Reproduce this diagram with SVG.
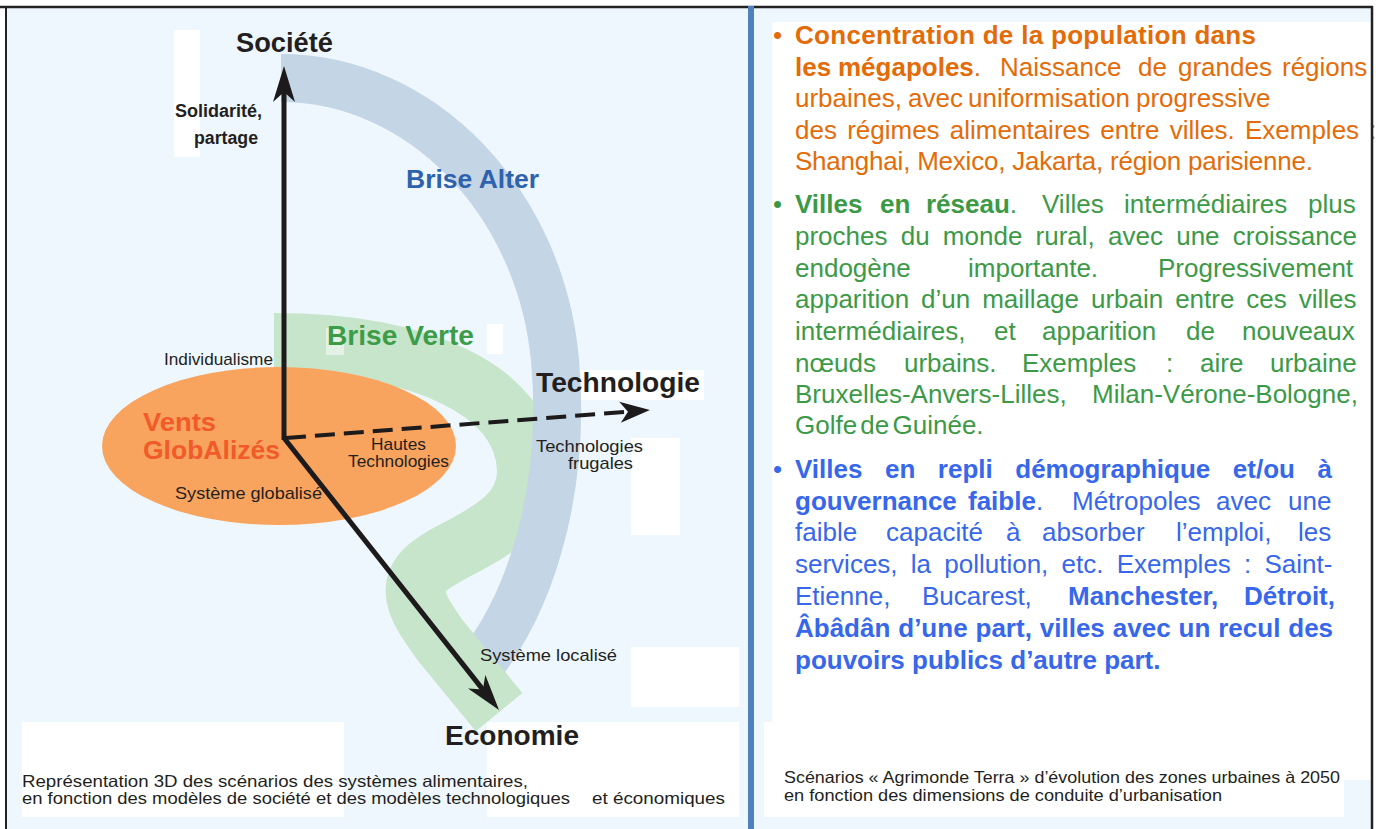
<svg xmlns="http://www.w3.org/2000/svg" width="1376" height="829" viewBox="0 0 1376 829">
<defs>
<style>
text{font-family:"Liberation Sans",Arial,sans-serif;fill:#231f20}
.b{font-weight:bold}
.lb{font-size:17px}
.ax{font-size:28px;font-weight:bold}
.rt{font-size:26px}
.or{fill:#e36c09}
.gr{fill:#3c9a47}
.bl{fill:#3767ea}
.cap{font-size:16.5px}
.wr{fill:#ffffff}
</style>
<marker id="ah" markerUnits="userSpaceOnUse" viewBox="0 -12 40 24" markerWidth="40" markerHeight="24" refX="10" refY="0" orient="auto">
<path d="M0,-11 L36,0 L0,11 L10,0 Z" fill="#1c1a1b"/>
</marker>
<marker id="ahd" markerUnits="userSpaceOnUse" viewBox="0 -12 34 24" markerWidth="34" markerHeight="24" refX="8" refY="0" orient="auto">
<path d="M0,-10.5 L30,0 L0,10.5 L8,0 Z" fill="#1c1a1b"/>
</marker>
</defs>

<rect x="0" y="0" width="1376" height="829" fill="#ffffff"/>
<rect x="6" y="7" width="742" height="822" fill="#eff7fe"/>
<rect x="754" y="7" width="618" height="822" fill="#eff7fe"/>

<g id="artifacts">
<rect class="wr" x="174" y="30" width="26" height="127"/>
<rect class="wr" x="487" y="324" width="16" height="30"/>
<rect class="wr" x="560" y="370" width="144" height="30"/>
<rect class="wr" x="631" y="438" width="49" height="97"/>
<rect class="wr" x="631" y="647" width="108" height="60"/>
<rect class="wr" x="22" y="722" width="322" height="95"/>
<rect class="wr" x="487" y="722" width="252" height="95"/>
<rect class="wr" x="772" y="22" width="599" height="700"/>
<rect class="wr" x="764" y="722" width="580" height="95"/>
<rect class="wr" x="1344" y="722" width="27" height="58"/>
</g>

<g id="brise-verte">
<path d="M274,343 C420,343 525,390 527,470 C529,530 450,545 425,570 C405,590 420,612 440,640 L499,712" fill="none" stroke="#c7e5cb" stroke-width="60"/>
</g>
<g id="brise-alter">
<path d="M281,78 C420,78 540,200 555,360 C565,472 540,590 478,668" fill="none" stroke="#c4d5e6" stroke-width="48"/>
</g>
<g id="brise-verte-tail">
<path d="M440,640 L499,712" fill="none" stroke="#c7e5cb" stroke-width="60"/>
</g>
<rect x="326" y="328" width="18" height="27" fill="#ffffff" opacity="0.5"/>
<g id="vents-globalises">
<ellipse cx="279" cy="446" rx="177" ry="79" fill="#f9a45e"/>
</g>

<g id="connectors" stroke="#1c1a1b" fill="none">
<line x1="284" y1="440" x2="284" y2="92" stroke-width="5" marker-end="url(#ah)"/>
<line x1="284" y1="438" x2="482.9" y2="689.6" stroke-width="5" marker-end="url(#ah)"/>
<line x1="286" y1="438" x2="628" y2="411.7" stroke-width="4" stroke-dasharray="20 9" marker-end="url(#ahd)"/>
</g>

<g id="societe"><text class="ax" x="236" y="52" font-size="27" textLength="97" lengthAdjust="spacingAndGlyphs">Société</text></g>
<g id="solidarite">
<text class="b" font-size="17.5" x="175" y="117" textLength="87" lengthAdjust="spacingAndGlyphs">Solidarité,</text>
<text class="b" font-size="17.5" x="194" y="144" textLength="64" lengthAdjust="spacingAndGlyphs">partage</text>
</g>
<g id="brise-alter-label"><text class="b" font-size="26" x="406" y="188" style="fill:#2f62ad" textLength="133" lengthAdjust="spacingAndGlyphs">Brise Alter</text></g>
<g id="brise-verte-label"><text class="b" font-size="27" x="327" y="345" style="fill:#3c9c48" textLength="147" lengthAdjust="spacingAndGlyphs">Brise Verte</text></g>
<g id="individualisme"><text class="lb" x="164" y="365" textLength="109" lengthAdjust="spacingAndGlyphs">Individualisme</text></g>
<g id="technologie"><text class="ax" x="536" y="392" textLength="164" lengthAdjust="spacingAndGlyphs">Technologie</text></g>
<g id="vents-label">
<text class="b" font-size="26.5" x="143" y="431" style="fill:#f15a29" textLength="73" lengthAdjust="spacingAndGlyphs">Vents</text>
<text class="b" font-size="26.5" x="143" y="459" style="fill:#f15a29" textLength="137" lengthAdjust="spacingAndGlyphs">GlobAlizés</text>
</g>
<g id="hautes-technologies">
<text class="lb" x="371" y="450" textLength="55" lengthAdjust="spacingAndGlyphs">Hautes</text>
<text class="lb" x="348" y="467" textLength="101" lengthAdjust="spacingAndGlyphs">Technologies</text>
</g>
<g id="systeme-globalise"><text class="lb" x="175" y="499" textLength="147" lengthAdjust="spacingAndGlyphs">Système globalisé</text></g>
<g id="technologies-frugales">
<text class="lb" x="536" y="452" textLength="107" lengthAdjust="spacingAndGlyphs">Technologies</text>
<text class="lb" x="568" y="469" textLength="65" lengthAdjust="spacingAndGlyphs">frugales</text>
</g>
<g id="systeme-localise"><text class="lb" x="480" y="661" textLength="137" lengthAdjust="spacingAndGlyphs">Système localisé</text></g>
<g id="economie"><text class="ax" x="445" y="745" textLength="134" lengthAdjust="spacingAndGlyphs">Economie</text></g>

<g id="caption-left">
<text class="cap" x="22" y="787" textLength="506" lengthAdjust="spacingAndGlyphs">Représentation 3D des scénarios des systèmes alimentaires,</text>
<text class="cap" y="804"><tspan x="22" textLength="548" lengthAdjust="spacingAndGlyphs">en fonction des modèles de société et des modèles technologiques</tspan><tspan x="592" textLength="133" lengthAdjust="spacingAndGlyphs">et économiques</tspan></text>
</g>

<g id="bullet-megapoles">
<text class="rt or" y="44"><tspan x="773">•</tspan><tspan x="795" class="b" textLength="461" lengthAdjust="spacing">Concentration de la population dans</tspan></text>
<text class="rt or" y="76"><tspan x="795" class="b">les</tspan><tspan x="838" class="b">mégapoles</tspan><tspan>.</tspan><tspan x="1000">Naissance</tspan><tspan x="1138">de</tspan><tspan x="1178">grandes</tspan><tspan x="1282">régions</tspan></text>
<text class="rt or" y="107"><tspan x="795">urbaines,</tspan><tspan x="908">avec</tspan><tspan x="968">uniformisation</tspan><tspan x="1136">progressive</tspan></text>
<text class="rt or" y="139" x="795" word-spacing="3">des régimes alimentaires entre villes. Exemples :</text>
<text class="rt or" y="170" x="795" textLength="518" lengthAdjust="spacing">Shanghai, Mexico, Jakarta, région  parisienne.</text>
</g>

<g id="bullet-reseau">
<text class="rt gr" y="213"><tspan x="773">•</tspan><tspan x="795" class="b">Villes</tspan><tspan x="880" class="b">en</tspan><tspan x="926" class="b">réseau</tspan><tspan>.</tspan><tspan x="1042">Villes</tspan><tspan x="1124">intermédiaires</tspan><tspan x="1308">plus</tspan></text>
<text class="rt gr" y="245" x="795" word-spacing="6">proches du monde rural, avec une croissance</text>
<text class="rt gr" y="277"><tspan x="795">endogène</tspan><tspan x="968">importante.</tspan><tspan x="1158">Progressivement</tspan></text>
<text class="rt gr" y="308" x="795" word-spacing="4.7">apparition d’un maillage urbain entre ces villes</text>
<text class="rt gr" y="340"><tspan x="795">intermédiaires,</tspan><tspan x="994">et</tspan><tspan x="1042">apparition</tspan><tspan x="1186">de</tspan><tspan x="1242">nouveaux</tspan></text>
<text class="rt gr" y="372"><tspan x="795">nœuds</tspan><tspan x="904">urbains.</tspan><tspan x="1022">Exemples</tspan><tspan x="1166">:</tspan><tspan x="1200">aire</tspan><tspan x="1270">urbaine</tspan></text>
<text class="rt gr" y="403"><tspan x="795">Bruxelles-Anvers-Lilles,</tspan><tspan x="1092">Milan-Vérone-Bologne,</tspan></text>
<text class="rt gr" y="434" x="795" word-spacing="-4">Golfe de Guinée.</text>
</g>

<g id="bullet-repli">
<text class="rt bl" y="478"><tspan x="773">•</tspan><tspan x="795" class="b" word-spacing="15.3">Villes en repli démographique et/ou à</tspan></text>
<text class="rt bl" y="510"><tspan x="795" class="b">gouvernance</tspan><tspan x="968" class="b">faible</tspan><tspan>.</tspan><tspan x="1072">Métropoles</tspan><tspan x="1216">avec</tspan><tspan x="1288">une</tspan></text>
<text class="rt bl" y="541"><tspan x="795">faible</tspan><tspan x="886">capacité</tspan><tspan x="1006">à</tspan><tspan x="1042">absorber</tspan><tspan x="1176">l’emploi,</tspan><tspan x="1298">les</tspan></text>
<text class="rt bl" y="573" x="795" word-spacing="6">services, la pollution, etc. Exemples : Saint-</text>
<text class="rt bl" y="605"><tspan x="795">Etienne,</tspan><tspan x="922">Bucarest,</tspan><tspan x="1068" class="b">Manchester,</tspan><tspan x="1244" class="b">Détroit,</tspan></text>
<text class="rt bl b" y="637" x="795" word-spacing="0.7">Âbâdân d’une part, villes avec un recul des</text>
<text class="rt bl b" y="669" x="795">pouvoirs publics d’autre part.</text>
</g>

<g id="caption-right">
<text class="cap" x="784" y="783" textLength="556" lengthAdjust="spacingAndGlyphs">Scénarios « Agrimonde Terra » d’évolution des zones urbaines à 2050</text>
<text class="cap" x="784" y="801" textLength="438" lengthAdjust="spacingAndGlyphs">en fonction des dimensions de conduite d’urbanisation</text>
</g>

<g id="frame">
<line x1="0" y1="7" x2="1373" y2="7" stroke="#222222" stroke-width="2.5"/>
<line x1="6" y1="6" x2="6" y2="829" stroke="#222222" stroke-width="2"/>
<line x1="1372" y1="6" x2="1372" y2="829" stroke="#222222" stroke-width="2.5"/>
<rect x="748" y="6" width="6" height="823" fill="#4f81bd"/>
</g>
</svg>
